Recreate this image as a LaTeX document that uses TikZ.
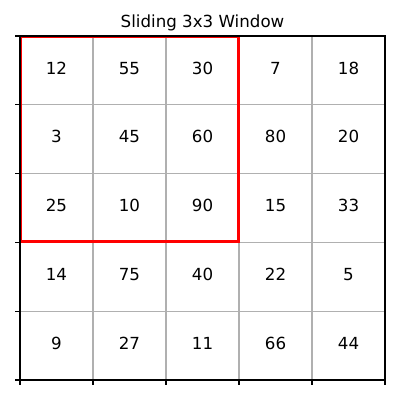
\documentclass[tikz,border=0pt]{standalone}
\usepackage{fontspec}
\setmainfont{DejaVu Sans}
\definecolor{gridgray}{RGB}{176,176,176}
\tikzset{
  cell/.style={font=\fontsize{12}{14}\selectfont,text height=0.76em,text depth=0.24em,inner sep=0pt},
  gridline/.style={draw=gridgray,line width=0.8pt},
  spine/.style={draw=black,line width=0.8pt},
  window/.style={draw=red,line width=2pt}
}
\begin{document}
\begin{tikzpicture}[x=52.56pt,y=49.536pt]
      \useasboundingbox (-14.4pt,-14.4pt) rectangle (273.6pt,273.6pt);
      \begin{scope}[gridline]
        \draw (1,0) to (1,5);
        \draw (2,0) to (2,5);
        \draw (3,0) to (3,5);
        \draw (4,0) to (4,5);
        \draw (0,1) to (5,1);
        \draw (0,2) to (5,2);
        \draw (0,3) to (5,3);
        \draw (0,4) to (5,4);
      \end{scope}
      \begin{scope}
        \clip (0,0) rectangle (5,5);
        \draw[window] ([xshift=0.5pt,yshift=0.5pt]0,2) rectangle ([xshift=-0.5pt,yshift=-0.5pt]3,5);
      \end{scope}
      \draw[spine] (0,0) rectangle (5,5);
      \begin{scope}[spine]
        \draw (0,0) to ++(-3.5pt,0);
        \draw (0,1) to ++(-3.5pt,0);
        \draw (0,2) to ++(-3.5pt,0);
        \draw (0,3) to ++(-3.5pt,0);
        \draw (0,4) to ++(-3.5pt,0);
        \draw (0,5) to ++(-3.5pt,0);
        \draw (0,0) to ++(0,-3.5pt);
        \draw (1,0) to ++(0,-3.5pt);
        \draw (2,0) to ++(0,-3.5pt);
        \draw (3,0) to ++(0,-3.5pt);
        \draw (4,0) to ++(0,-3.5pt);
        \draw (5,0) to ++(0,-3.5pt);
      \end{scope}
      \path[every node/.style={cell}]
        (0.5,4.5) node (r0c0){12}
        (1.5,4.5) node (r0c1){55}
        (2.5,4.5) node (r0c2){30}
        (3.5,4.5) node (r0c3){7}
        (4.5,4.5) node (r0c4){18}
        (0.5,3.5) node (r1c0){3}
        (1.5,3.5) node (r1c1){45}
        (2.5,3.5) node (r1c2){60}
        (3.5,3.5) node (r1c3){80}
        (4.5,3.5) node (r1c4){20}
        (0.5,2.5) node (r2c0){25}
        (1.5,2.5) node (r2c1){10}
        (2.5,2.5) node (r2c2){90}
        (3.5,2.5) node (r2c3){15}
        (4.5,2.5) node (r2c4){33}
        (0.5,1.5) node (r3c0){14}
        (1.5,1.5) node (r3c1){75}
        (2.5,1.5) node (r3c2){40}
        (3.5,1.5) node (r3c3){22}
        (4.5,1.5) node (r3c4){5}
        (0.5,0.5) node (r4c0){9}
        (1.5,0.5) node (r4c1){27}
        (2.5,0.5) node (r4c2){11}
        (3.5,0.5) node (r4c3){66}
        (4.5,0.5) node (r4c4){44};
      \node[anchor=base,yshift=6pt,inner sep=0pt,font=\fontsize{12}{14}\selectfont] (title) at (2.5,5) {Sliding 3x3 Window};
    \end{tikzpicture}
\end{document}
